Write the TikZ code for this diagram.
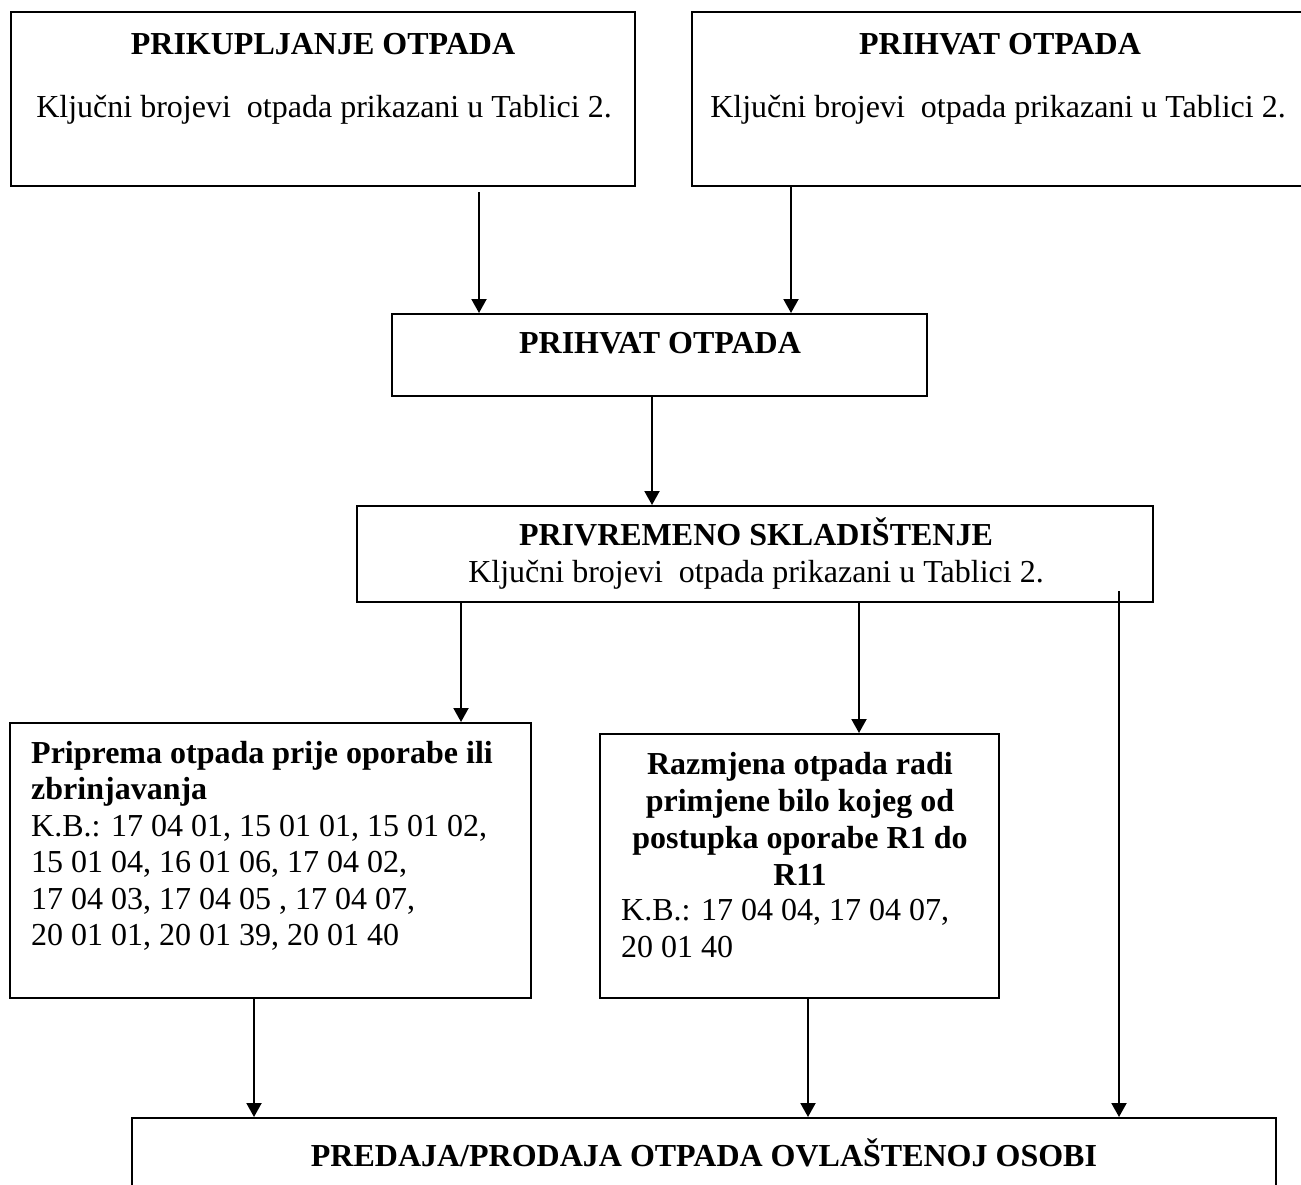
\documentclass[tikz,border=0pt]{standalone}
\usepackage{fontspec}
\setmainfont{Liberation Serif}
\usetikzlibrary{arrows.meta}
\begin{document}
\begin{tikzpicture}[x=1pt,y=-1pt,
  font=\fontsize{32}{36.5}\selectfont,
  boxnode/.style={draw=black,line width=2pt,inner sep=0pt,rectangle},
  txt/.style={inner sep=0pt,anchor=base},
  txtl/.style={inner sep=0pt,anchor=base west},
  ttl/.style={inner sep=0pt,anchor=base,font=\fontsize{32}{36.5}\selectfont\bfseries},
  ttll/.style={inner sep=0pt,anchor=base west,font=\fontsize{32}{36.5}\selectfont\bfseries},
  arr/.style={line width=2pt,-{Triangle[width=15pt,length=14pt]}}]
\useasboundingbox (0,0) rectangle (1301,1184);
\clip (0,0) rectangle (1301,1184);
\fill[white] (0,0) rectangle (1301,1184);

% boxes
\node[boxnode,minimum width=624pt,minimum height=174pt] (b1) at (323,99) {};
\node[boxnode,minimum width=616pt,minimum height=174pt] (b2) at (1000,99) {};
\node[boxnode,minimum width=535pt,minimum height=82pt] (b3) at (659.5,355) {};
\node[boxnode,minimum width=796pt,minimum height=96pt] (b4) at (755,554) {};
\node[boxnode,minimum width=521pt,minimum height=275pt] (b5) at (270.5,860.5) {};
\node[boxnode,minimum width=399pt,minimum height=264pt] (b6) at (799.5,866) {};
\node[boxnode,minimum width=1144pt,minimum height=104pt] (b7) at (704,1170) {};

% texts
\node[ttl] (t1a) at (323,54) {PRIKUPLJANJE OTPADA};
\node[txt] (t1b) at (324,117) {Ključni brojevi\ \ otpada prikazani u Tablici 2.};
\node[ttl] (t2a) at (1000,54) {PRIHVAT OTPADA};
\node[txt] (t2b) at (998,117) {Ključni brojevi\ \ otpada prikazani u Tablici 2.};
\node[ttl] (t3a) at (660,353) {PRIHVAT OTPADA};
\node[ttl] (t4a) at (756,545) {PRIVREMENO SKLADIŠTENJE};
\node[txt] (t4b) at (756,582) {Ključni brojevi\ \ otpada prikazani u Tablici 2.};

\node[ttll] (t5a) at (31,763) {Priprema otpada prije oporabe ili};
\node[ttll] (t5b) at (31,799.5) {zbrinjavanja};
\node[txtl] (t5c) at (31,836) {K.B.: 17 04 01, 15 01 01, 15 01 02,};
\node[txtl] (t5d) at (31,872.5) {15 01 04, 16 01 06, 17 04 02,};
\node[txtl] (t5e) at (31,909) {17 04 03, 17 04 05 , 17 04 07,};
\node[txtl] (t5f) at (31,945.5) {20 01 01, 20 01 39, 20 01 40};

\node[ttl] (t6a) at (800,774) {Razmjena otpada radi};
\node[ttl] (t6b) at (800,811) {primjene bilo kojeg od};
\node[ttl] (t6c) at (800,848) {postupka oporabe R1 do};
\node[ttl] (t6d) at (800,885) {R11};
\node[txtl] (t6e) at (621,920.5) {K.B.: 17 04 04, 17 04 07,};
\node[txtl] (t6f) at (621,957) {20 01 40};

\node[ttl] (t7a) at (704,1166) {PREDAJA/PRODAJA OTPADA OVLAŠTENOJ OSOBI};

% connector x positions
\coordinate (x1) at (479,0);
\coordinate (x2) at (791,0);
\coordinate (x3) at (652,0);
\coordinate (x4) at (461,0);
\coordinate (x5) at (859,0);
\coordinate (x6) at (1119,0);
\coordinate (x7) at (254,0);
\coordinate (x8) at (808,0);
\coordinate (s6) at (1119,591);

\draw[arr,shorten <=5pt] (x1 |- b1.south) -- (x1 |- b3.north);
\draw[arr] (x2 |- b2.south) -- (x2 |- b3.north);
\draw[arr] (x3 |- b3.south) -- (x3 |- b4.north);
\draw[arr] (x4 |- b4.south) -- (x4 |- b5.north);
\draw[arr] (x5 |- b4.south) -- (x5 |- b6.north);
\draw[arr] (s6) -- (x6 |- b7.north);
\draw[arr] (x7 |- b5.south) -- (x7 |- b7.north);
\draw[arr] (x8 |- b6.south) -- (x8 |- b7.north);
\end{tikzpicture}
\end{document}
